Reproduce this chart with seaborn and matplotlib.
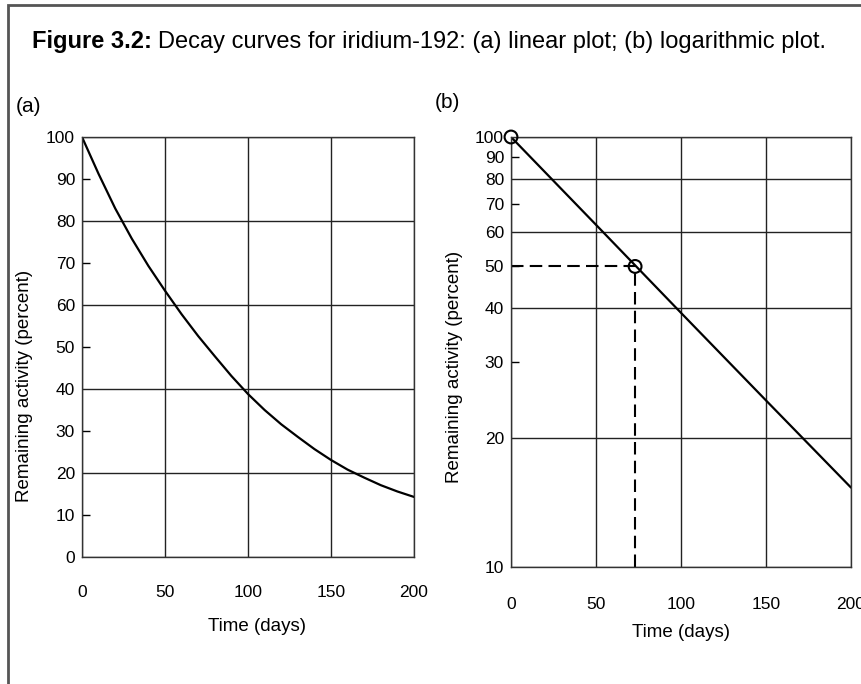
import matplotlib
matplotlib.use('Agg')
import matplotlib.pyplot as plt
from matplotlib.ticker import FixedLocator, StrMethodFormatter
from matplotlib.patches import Rectangle
import pandas as pd
import seaborn as sns

# values
days = [0, 10, 20, 30, 40, 50, 60, 70, 80, 90, 100,
        110, 120, 130, 140, 150, 160, 170, 180, 190, 200]
activity_lin = [100, 91.2, 83, 75.8, 69.3, 63.4, 57.8, 52.6, 47.8, 43.1, 38.8,
                35, 31.6, 28.6, 25.7, 23.1, 20.8, 18.9, 17.1, 15.6, 14.3]
days_log = [0, 50, 100, 150, 200]
activity_log = [100, 62.5, 39, 24.4, 15.3]
half_life = 73
half_level = 50
start_level = 100

x_ticks = [0, 50, 100, 150, 200]
y_grid_lin = [0, 20, 40, 60, 80, 100]
y_minor_lin = [10, 30, 50, 70, 90]
y_grid_log = [10, 20, 40, 60, 80, 100]
y_minor_log = [30, 50, 70, 90]

title_bold = 'Figure 3.2:'
title_rest = 'Decay curves for iridium-192: (a) linear plot; (b) logarithmic plot.'
xlabel = 'Time (days)'
ylabel = 'Remaining activity (percent)'

sns.set_style('white')
plt.rcParams['font.family'] = ['Liberation Sans', 'DejaVu Sans']
plt.rcParams['text.color'] = 'black'
plt.rcParams['axes.labelcolor'] = 'black'
plt.rcParams['xtick.color'] = 'black'
plt.rcParams['ytick.color'] = 'black'

W, H = 862, 684
fig = plt.figure(figsize=(W / 100, H / 100), dpi=100)
ax_a = fig.add_axes([82 / W, 1 - 557 / H, 332 / W, 420 / H])
ax_b = fig.add_axes([511 / W, 1 - 567 / H, 340 / W, 430 / H])

# (a) linear plot
df_a = pd.DataFrame({'days': days, 'activity': activity_lin})
sns.lineplot(data=df_a, x='days', y='activity', ax=ax_a, color='black', lw=1.6)
ax_a.set_ylim(0, 100)
ax_a.yaxis.set_major_locator(FixedLocator(y_grid_lin))
ax_a.yaxis.set_minor_locator(FixedLocator(y_minor_lin))

# (b) logarithmic plot
df_b = pd.DataFrame({'days': days_log, 'activity': activity_log})
sns.lineplot(data=df_b, x='days', y='activity', ax=ax_b, color='black', lw=1.6)
ax_b.set_yscale('log')
ax_b.set_ylim(10, 100)
ax_b.yaxis.set_major_locator(FixedLocator(y_grid_log))
ax_b.yaxis.set_minor_locator(FixedLocator(y_minor_log))
ax_b.plot([0, half_life], [half_level, half_level], color='black', lw=1.5, ls=(0, (6, 3)))
ax_b.plot([half_life, half_life], [10, half_level], color='black', lw=1.5, ls=(0, (6, 3)))
sns.scatterplot(x=[0, half_life], y=[start_level, half_level], ax=ax_b, marker='o', s=85,
                facecolor='none', edgecolor='black', linewidth=1.5, zorder=5, clip_on=False)

for ax, pad in [(ax_a, 20), (ax_b, 21.5)]:
    ax.set_xlim(0, 200)
    ax.set_xticks(x_ticks)
    ax.yaxis.set_major_formatter(StrMethodFormatter('{x:.0f}'))
    ax.yaxis.set_minor_formatter(StrMethodFormatter('{x:.0f}'))
    ax.grid(True, which='major', color='#222222', lw=1.0)
    ax.tick_params(axis='x', length=0, pad=pad, labelsize=12.5)
    ax.tick_params(axis='y', which='major', length=0, pad=5, labelsize=12.5)
    ax.tick_params(axis='y', which='minor', direction='in', length=6, width=1,
                   pad=5, labelsize=12.5, left=True)
    for sp in ax.spines.values():
        sp.set_color('#333333')
        sp.set_linewidth(1.0)
    ax.set_xlabel(xlabel, fontsize=13.5)
    ax.set_ylabel(ylabel, fontsize=13.5)

ax_a.xaxis.set_label_coords(0.527, -0.145)
ax_b.xaxis.set_label_coords(0.5, -0.133)
ax_a.yaxis.set_label_coords(-0.148, 0.407)
ax_b.yaxis.set_label_coords(-0.141, 0.465)

# panel labels
fig.text(16 / W, 1 - 106 / H, '(a)', fontsize=15, va='center')
fig.text(435 / W, 1 - 103 / H, '(b)', fontsize=15, va='center')

# caption with bold figure number
t1 = fig.text(32 / W, 1 - 48 / H, title_bold, fontsize=17, fontweight='bold', va='baseline')
ax_a.annotate(title_rest, xy=(1, 0), xycoords=t1, xytext=(4.7, 0),
              textcoords='offset points', fontsize=17, va='bottom', annotation_clip=False)

# box around the figure
fig.patches.append(Rectangle((8 / W, -0.1), 1.2, 1.1 - 5 / H, transform=fig.transFigure,
                             fill=False, ec='#555555', lw=2.0))

fig.savefig('out.png', dpi=100)
